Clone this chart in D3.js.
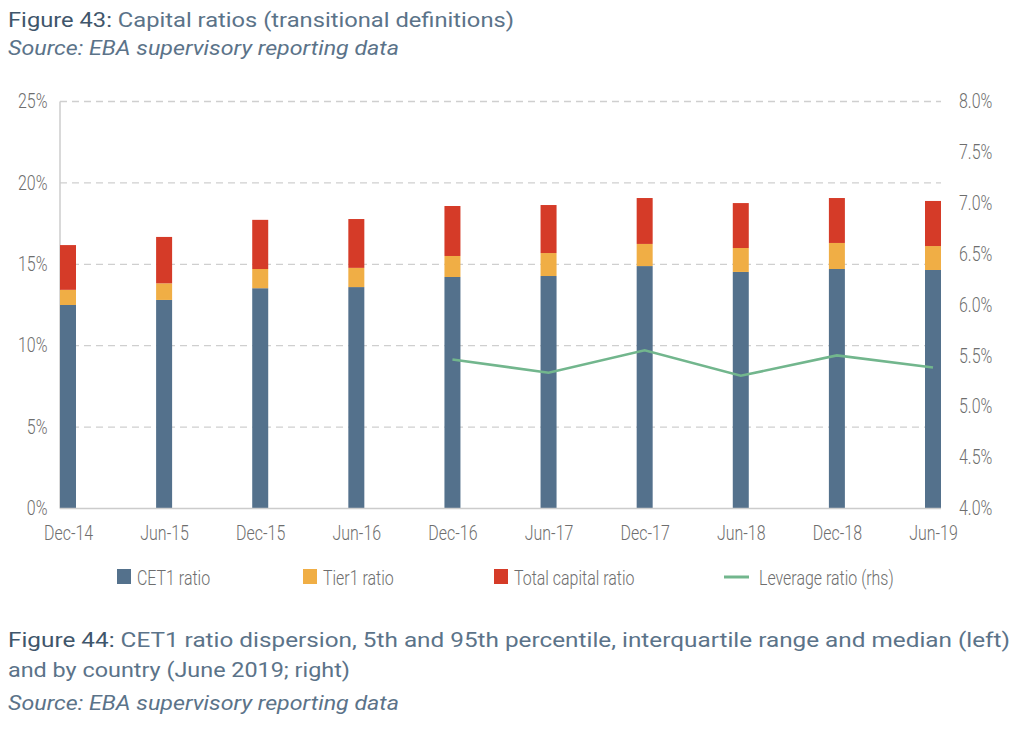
<!DOCTYPE html>
<html>
<head>
<meta charset="utf-8">
<script src="https://cdn.jsdelivr.net/npm/d3@7"></script>
<style>
  body { margin: 0; background: #fff; }
  .ax text { font-family: Roboto, "Noto Sans", sans-serif; font-size: 21px; font-weight: 300; fill: #6e6e6e;
             transform-box: fill-box; transform: scaleX(0.76); }
  .axl text { transform-origin: right center; }
  .axr text { transform-origin: left center; }
  .axb text { transform-origin: center center; }
  .lg text { transform-origin: left center; }
  .ttl { font-family: Roboto, "Noto Sans", sans-serif; font-size: 21px; fill: #5b7389; }
</style>
</head>
<body>
<div id="chart"></div>
<script>
// data
var periods = ["Dec-14", "Jun-15", "Dec-15", "Jun-16", "Dec-16", "Jun-17", "Dec-17", "Jun-18", "Dec-18", "Jun-19"];
var cet1 = [12.47, 12.78, 13.5, 13.57, 14.19, 14.25, 14.86, 14.5, 14.68, 14.62];
var tier1 = [13.4, 13.8, 14.68, 14.75, 15.48, 15.66, 16.22, 15.97, 16.28, 16.09];
var totalCap = [16.15, 16.65, 17.7, 17.75, 18.55, 18.61, 19.04, 18.73, 19.04, 18.86];
var leverage = [null, null, null, null, 5.46, 5.33, 5.55, 5.30, 5.50, 5.38];
var leftTicks = [0, 5, 10, 15, 20, 25];
var rightTicks = [4.0, 4.5, 5.0, 5.5, 6.0, 6.5, 7.0, 7.5, 8.0];

var W = 1026, H = 732;
var m = { left: 60, right: 941, top: 101, bottom: 508 }, barW = 16;

var svg = d3.select("#chart").append("svg")
    .attr("width", W)
    .attr("height", H);

var x = d3.scalePoint()
    .domain(periods)
    .range([m.left + barW / 2, m.right - barW / 2]);

var y = d3.scaleLinear().domain([0, 25]).range([m.bottom, m.top]);
var y2 = d3.scaleLinear().domain([4, 8]).range([m.bottom, m.top]);

// titles
var t1 = svg.append("text").attr("class", "ttl").attr("x", 8).attr("y", 27)
    .attr("textLength", 506).attr("lengthAdjust", "spacingAndGlyphs");
t1.append("tspan").attr("fill", "#3f566b").text("Figure 43:");
t1.append("tspan").text(" Capital ratios (transitional definitions)");

svg.append("text").attr("class", "ttl").attr("x", 8).attr("y", 55)
    .attr("font-style", "italic")
    .attr("textLength", 391).attr("lengthAdjust", "spacingAndGlyphs")
    .text("Source: EBA supervisory reporting data");

// grid
svg.append("g")
    .selectAll("line")
    .data(leftTicks.slice(1))
    .enter().append("line")
    .attr("x1", m.left).attr("x2", m.right)
    .attr("y1", function(d) { return y(d) + 0.5; })
    .attr("y2", function(d) { return y(d) + 0.5; })
    .attr("stroke", "#cfcfcf")
    .attr("stroke-width", 1.3)
    .attr("stroke-dasharray", "7,5");

// axes
var gl = svg.append("g").attr("class", "ax axl")
    .attr("transform", "translate(" + (m.left - 0.5) + ",0)")
    .call(d3.axisLeft(y).tickValues(leftTicks).tickSize(0).tickPadding(12)
        .tickFormat(function(d) { return d + "%"; }));
gl.select(".domain").attr("stroke", "#cccccc").attr("stroke-width", 1.5);

var gr = svg.append("g").attr("class", "ax axr")
    .attr("transform", "translate(" + (m.right + 6) + ",0)")
    .call(d3.axisRight(y2).tickValues(rightTicks).tickSize(0).tickPadding(12)
        .tickFormat(function(d) { return d.toFixed(1) + "%"; }));
gr.select(".domain").remove();

// stacked bars
var layers = [
    { color: "#54718c", lo: function(i) { return 0; }, hi: function(i) { return cet1[i]; } },
    { color: "#f0ae45", lo: function(i) { return cet1[i]; }, hi: function(i) { return tier1[i]; } },
    { color: "#d53b28", lo: function(i) { return tier1[i]; }, hi: function(i) { return totalCap[i]; } }
];

layers.forEach(function(L) {
    svg.append("g")
        .selectAll("rect")
        .data(periods)
        .enter().append("rect")
        .attr("x", function(d) { return x(d) - barW / 2; })
        .attr("width", barW)
        .attr("y", function(d, i) { return y(L.hi(i)); })
        .attr("height", function(d, i) { return y(L.lo(i)) - y(L.hi(i)); })
        .attr("fill", L.color);
});

var gb = svg.append("g").attr("class", "ax axb")
    .attr("transform", "translate(0," + (m.bottom + 0.5) + ")")
    .call(d3.axisBottom(x).tickSize(0).tickPadding(17));
gb.select(".domain").attr("stroke", "#cccccc").attr("stroke-width", 1.5)
    .attr("d", "M" + m.left + ",0H" + m.right);
gb.selectAll("text").attr("fill", "#666");

// leverage line
var line = d3.line()
    .defined(function(d) { return d != null; })
    .x(function(d, i) { return x(periods[i]); })
    .y(function(d) { return y2(d); });

svg.append("path")
    .datum(leverage)
    .attr("d", line)
    .attr("fill", "none")
    .attr("stroke", "#72b68d")
    .attr("stroke-width", 2.6);

// legend
var legend = [
    { name: "CET1 ratio", color: "#54718c", x: 117, type: "box" },
    { name: "Tier1 ratio", color: "#f0ae45", x: 303, type: "box" },
    { name: "Total capital ratio", color: "#d53b28", x: 494, type: "box" },
    { name: "Leverage ratio (rhs)", color: "#72b68d", x: 724, type: "line" }
];
var lg = svg.append("g").attr("class", "ax lg");
legend.forEach(function(d) {
    if (d.type == "box") {
        lg.append("rect").attr("x", d.x).attr("y", 569).attr("width", 14).attr("height", 15).attr("fill", d.color);
        lg.append("text").attr("x", d.x + 20).attr("y", 585).attr("fill", "#666").text(d.name);
    } else {
        lg.append("line").attr("x1", d.x).attr("x2", d.x + 25).attr("y1", 577).attr("y2", 577)
            .attr("stroke", d.color).attr("stroke-width", 3);
        lg.append("text").attr("x", d.x + 35).attr("y", 585).attr("fill", "#666").text(d.name);
    }
});

// next figure caption
var f44 = svg.append("text").attr("class", "ttl").attr("x", 8).attr("y", 647)
    .attr("textLength", 1002).attr("lengthAdjust", "spacingAndGlyphs");
f44.append("tspan").attr("fill", "#3f566b").text("Figure 44:");
f44.append("tspan").text(" CET1 ratio dispersion, 5th and 95th percentile, interquartile range and median (left)");

svg.append("text").attr("class", "ttl").attr("x", 8).attr("y", 677)
    .attr("textLength", 342).attr("lengthAdjust", "spacingAndGlyphs")
    .text("and by country (June 2019; right)");

svg.append("text").attr("class", "ttl").attr("x", 8).attr("y", 710)
    .attr("font-style", "italic")
    .attr("textLength", 391).attr("lengthAdjust", "spacingAndGlyphs")
    .text("Source: EBA supervisory reporting data");
</script>
</body>
</html>
